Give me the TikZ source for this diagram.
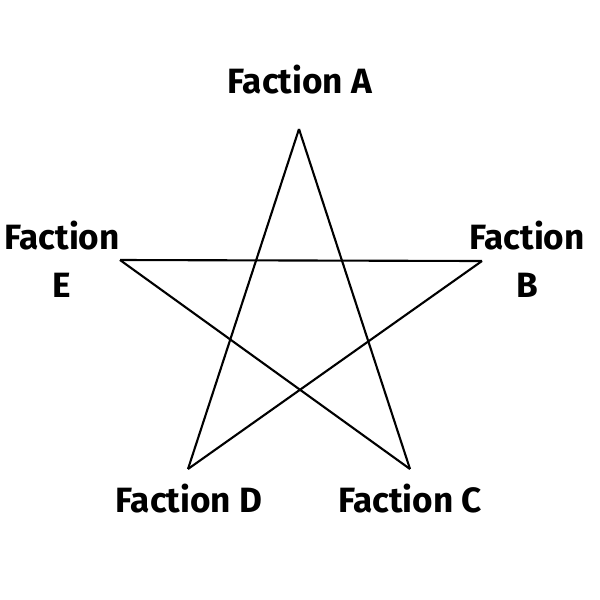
\documentclass[tikz,border=0pt]{standalone}
\usepackage{fontspec}
\setmainfont{Fira Sans}
\begin{document}
\begin{tikzpicture}[x=0.02cm,y=-0.02cm,
  lbl/.style={font=\bfseries\fontsize{20}{27.5}\selectfont, align=center, inner sep=0pt},
  edge/.style={line width=1.2pt, line join=miter}]
\useasboundingbox (0,0) rectangle (600,600);
\coordinate (A) at (299,129);
\coordinate (B) at (482,261);
\coordinate (C) at (410,469);
\coordinate (D) at (188,469);
\coordinate (E) at (120,260);
\draw[edge] (A) -- (C);
\draw[edge] (C) -- (E);
\draw[edge] (E) -- (B);
\draw[edge] (B) -- (D);
\draw[edge] (D) -- (A);
\node[lbl] (la) at (300,80) {Faction A};
\node[lbl] (lb) at (527,259) {Faction\\B};
\node[lbl] (le) at (62,259) {Faction\\E};
\node[lbl] (ld) at (189,499) {Faction D};
\node[lbl] (lc) at (410,499) {Faction C};
\end{tikzpicture}
\end{document}
